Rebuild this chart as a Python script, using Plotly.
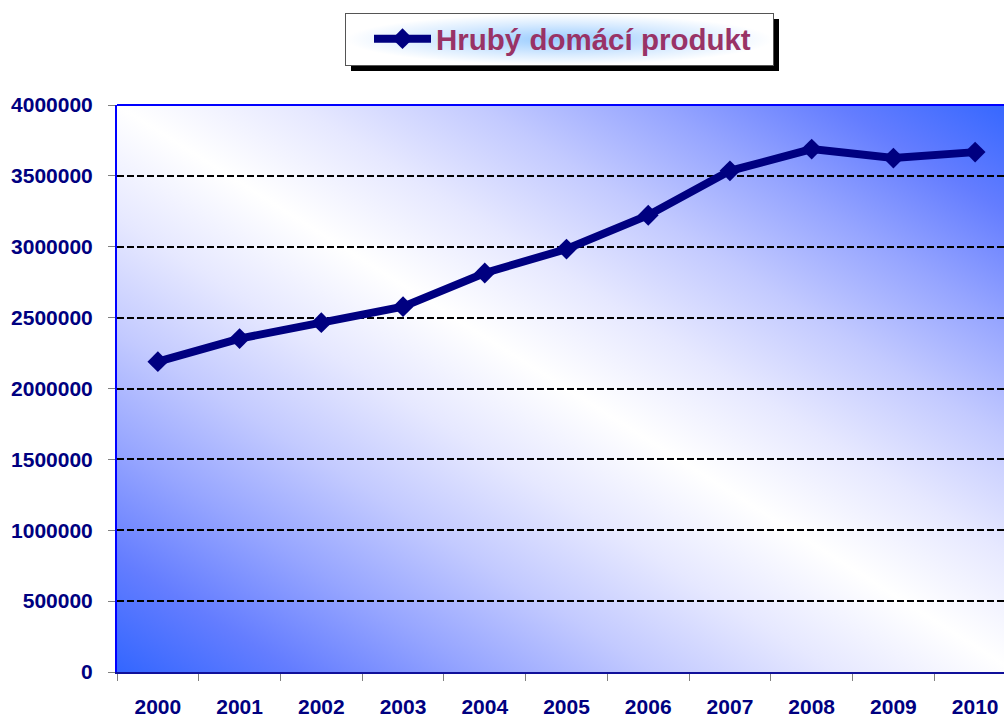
import base64
import plotly.graph_objects as go

years = ["2000", "2001", "2002", "2003", "2004", "2005", "2006", "2007", "2008", "2009", "2010"]
gdp = [2189169, 2352214, 2464432, 2577110, 2814762, 2983862, 3222369, 3535460, 3689001, 3625870, 3667550]
series_name = "Hrubý domácí produkt"
y_ticks = [0, 500000, 1000000, 1500000, 2000000, 2500000, 3000000, 3500000, 4000000]

W, H = 1004, 717
L, T, B = 117, 105, 45
PW, PH = W - L, H - T - B
full_w = 899  # full plot width (extends past window)


def svg_uri(svg):
    return "data:image/svg+xml;base64," + base64.b64encode(svg.encode("utf-8")).decode("ascii")


stops = [(0.0, "#3366ff"), (0.1, "#647dff"), (0.2, "#96a5ff"), (0.3, "#c3caff"),
         (0.4, "#e6e8ff"), (0.5, "#ffffff"), (0.6, "#e6e8ff"), (0.7, "#c3caff"),
         (0.8, "#96a5ff"), (0.9, "#647dff"), (1.0, "#3366ff")]
stop_xml = "".join(f'<stop offset="{o}" stop-color="{c}"/>' for o, c in stops)
bg_svg = f'''<svg xmlns="http://www.w3.org/2000/svg" width="{full_w}" height="{PH}" viewBox="0 0 {full_w} {PH}" preserveAspectRatio="none">
<defs><linearGradient id="g" x1="0" y1="1" x2="1" y2="0">{stop_xml}</linearGradient></defs>
<rect x="0" y="0" width="{full_w}" height="{PH}" fill="url(#g)"/></svg>'''

lx0, lx1, ly0, ly1 = 345, 773, 13, 65
lw, lh = lx1 - lx0, ly1 - ly0
leg_svg = f'''<svg xmlns="http://www.w3.org/2000/svg" width="{lw+7}" height="{lh+7}" viewBox="0 0 {lw+7} {lh+7}" preserveAspectRatio="none">
<defs><radialGradient id="r" cx="0.5" cy="0.5" r="0.5">
<stop offset="0" stop-color="#99ccff"/><stop offset="0.6" stop-color="#d8ebff"/><stop offset="1" stop-color="#ffffff"/>
</radialGradient></defs>
<rect x="6" y="6" width="{lw}" height="{lh}" fill="#000000"/>
<rect x="0.5" y="0.5" width="{lw}" height="{lh}" fill="#ffffff" stroke="#555555" stroke-width="1"/>
<rect x="1" y="1" width="{lw-1}" height="{lh-1}" fill="url(#r)"/></svg>'''


def px(x):
    return (x - L) / PW


def py(y):
    return (H - B - y) / PH


fig = go.Figure()
fig.add_trace(go.Scatter(
    x=list(range(len(years))), y=gdp, name=series_name, mode="lines+markers",
    line=dict(color="#000080", width=8),
    marker=dict(symbol="diamond", size=16, color="#000080"),
))

fig.add_layout_image(dict(source=svg_uri(bg_svg), xref="paper", yref="paper",
                          x=0, y=1, sizex=full_w / PW, sizey=1, sizing="stretch",
                          xanchor="left", yanchor="top", layer="below"))
fig.add_layout_image(dict(source=svg_uri(leg_svg), xref="paper", yref="paper",
                          x=px(lx0), y=py(ly0), sizex=(lw + 7) / PW, sizey=(lh + 7) / PH,
                          sizing="stretch", xanchor="left", yanchor="top", layer="above"))

fig.add_shape(type="line", xref="paper", yref="paper", x0=0, x1=full_w / PW, y0=1, y1=1,
              line=dict(color="#0000ff", width=2), layer="below")

font_tick = dict(family="Liberation Sans, Arial, sans-serif", size=21, color="#000080", weight="bold")

fig.update_layout(
    width=W, height=H,
    margin=dict(l=L, r=0, t=T, b=B),
    paper_bgcolor="#ffffff",
    plot_bgcolor="rgba(0,0,0,0)",
    showlegend=True,
    legend=dict(
        x=px(369), y=py(39), xanchor="left", yanchor="middle",
        bgcolor="rgba(0,0,0,0)", borderwidth=0,
        font=dict(family="Liberation Sans, Arial, sans-serif", size=29.5, color="#993366", weight="bold"),
        itemwidth=57,
    ),
    xaxis=dict(
        range=[-0.5, -0.5 + 11 * PW / full_w], automargin=False,
        tickvals=list(range(len(years))), ticktext=years,
        ticks="", showgrid=False, zeroline=False,
        showline=True, linecolor="#10109a", linewidth=2,
        tickfont=font_tick, ticklabelstandoff=15,
        minor=dict(tickvals=[i - 0.5 for i in range(len(years) + 1)], ticks="outside",
                   ticklen=7, tickcolor="#808080", tickwidth=1, showgrid=False),
    ),
    yaxis=dict(
        range=[0, 4000000], tickvals=y_ticks, tickformat="d", automargin=False,
        ticks="outside", ticklen=7, tickcolor="#808080", tickwidth=1,
        showgrid=True, gridcolor="#000000", gridwidth=2, griddash="7px,3px",
        zeroline=False, showline=True, linecolor="#0000ff", linewidth=2,
        tickfont=font_tick, ticklabelstandoff=11,
    ),
)

fig.write_html("out.html", config={"displayModeBar": False},
               post_script="document.body.style.margin='0';document.body.style.overflow='hidden';")
